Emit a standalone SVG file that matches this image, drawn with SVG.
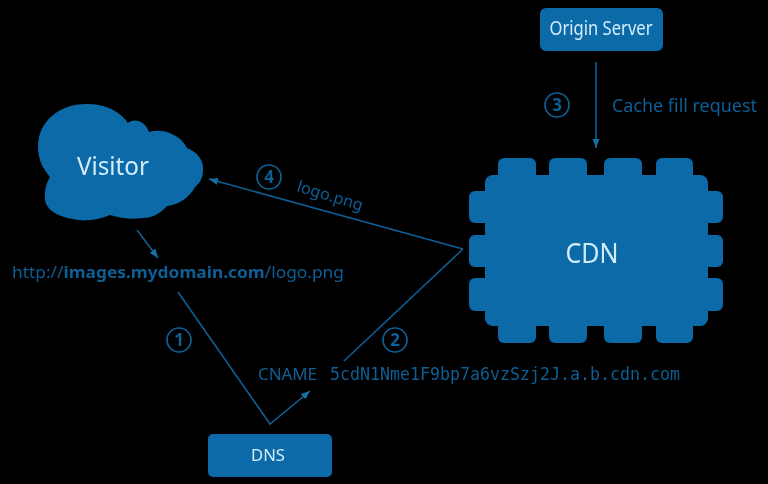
<svg xmlns="http://www.w3.org/2000/svg" width="768" height="484" viewBox="0 0 768 484">
<style>
.shape{fill:#0a6aa8}
.white{fill:#d4ecf8;font-family:"Noto Sans","Liberation Sans",sans-serif;text-anchor:middle}
.lbl{fill:#0e5f96;font-family:"Noto Sans","Liberation Sans",sans-serif;font-size:18px}
.mono{fill:#0e5f96;font-family:"DejaVu Sans Mono","Liberation Mono",monospace;font-size:17px}
.line{fill:none;stroke:#0e5f96;stroke-width:1.6}
.ring{fill:none;stroke:#0e5f96;stroke-width:1.7}
.num{fill:#0e5f96;font-family:"Noto Sans","Liberation Sans",sans-serif;font-size:17px;font-weight:700;text-anchor:middle}
</style>
<defs>
<marker id="arrow" markerUnits="userSpaceOnUse" markerWidth="10" markerHeight="10" refX="9" refY="5" orient="auto"><path d="M0,1.5 L9,5 L0,8.5 Z" fill="#1670a8"/></marker>
<filter id="soft" x="-5%" y="-5%" width="110%" height="110%"><feGaussianBlur stdDeviation="0.55"/></filter>
</defs>
<rect width="768" height="484" fill="#000"/>
<g filter="url(#soft)">
<g id="connectors">
<path class="line" d="M596,62 V148" marker-end="url(#arrow)"/>
<path class="line" d="M463,249 L209,179" marker-end="url(#arrow)"/>
<path class="line" d="M137,230 L158,258" marker-end="url(#arrow)"/>
<path class="line" d="M178,292 L270,424 L310,391" marker-end="url(#arrow)" stroke-linejoin="miter"/>
<path class="line" d="M344,361 L463,249"/>
</g>
<g id="origin-server">
<rect class="shape" x="540" y="8" width="123" height="43" rx="6"/>
<text class="white" x="601" y="35" font-size="19" textLength="103" lengthAdjust="spacingAndGlyphs">Origin Server</text>
</g>
<g id="visitor">
<path class="shape" d="M38,147 C38,122 58,104 87,104 C105,104 120,111 128,123 C131,119 144,118 149,132 C162,128 180,134 187,148 C197,152 204,160 203,170 C203,179 199,184 195,187 C190,197 178,205 167,206 C160,214 152,218 143,218 C132,220 120,218 110,215 C98,220 85,222 73,219 C55,216 43,208 45,194 C45,187 47,182 50,177 C42,168 38,158 38,147 Z"/>
<text class="white" x="113" y="175" font-size="25" textLength="72" lengthAdjust="spacingAndGlyphs">Visitor</text>
</g>
<g id="cdn">
<rect class="shape" x="485" y="175" width="223" height="151" rx="8"/>
<rect class="shape" x="498" y="158" width="38" height="30" rx="6"/>
<rect class="shape" x="549" y="158" width="38" height="30" rx="6"/>
<rect class="shape" x="604" y="158" width="38" height="30" rx="6"/>
<rect class="shape" x="656" y="158" width="37" height="30" rx="6"/>
<rect class="shape" x="498" y="313" width="38" height="30" rx="6"/>
<rect class="shape" x="549" y="313" width="38" height="30" rx="6"/>
<rect class="shape" x="604" y="313" width="38" height="30" rx="6"/>
<rect class="shape" x="656" y="313" width="37" height="30" rx="6"/>
<rect class="shape" x="469" y="191" width="254" height="32" rx="6"/>
<rect class="shape" x="469" y="235" width="254" height="32" rx="6"/>
<rect class="shape" x="469" y="278" width="254" height="33" rx="6"/>
<text class="white" x="592" y="263" font-size="27" textLength="53" lengthAdjust="spacingAndGlyphs">CDN</text>
</g>
<g id="dns">
<rect class="shape" x="208" y="434" width="124" height="43" rx="5"/>
<text class="white" x="268" y="461" font-size="17" textLength="34" lengthAdjust="spacingAndGlyphs">DNS</text>
</g>
<g id="labels">
<circle class="ring" cx="557" cy="105" r="12"/><text class="num" x="557" y="111">3</text>
<circle class="ring" cx="269" cy="177" r="12"/><text class="num" x="269" y="183">4</text>
<circle class="ring" cx="179" cy="340" r="12"/><text class="num" x="179" y="346">1</text>
<circle class="ring" cx="395" cy="340" r="12"/><text class="num" x="395" y="346">2</text>
<text class="lbl" x="612" y="112" textLength="145" lengthAdjust="spacingAndGlyphs">Cache fill request</text>
<text class="lbl" x="296" y="191" style="font-size:16px" textLength="68" lengthAdjust="spacingAndGlyphs" transform="rotate(17 296 191)">logo.png</text>
<text class="lbl" x="12" y="278" style="font-size:16.5px" textLength="332" lengthAdjust="spacingAndGlyphs">http://<tspan font-weight="700">images.mydomain.com</tspan>/logo.png</text>
<text class="lbl" x="258" y="380" style="font-size:17px" textLength="59" lengthAdjust="spacingAndGlyphs">CNAME</text>
<text class="mono" x="330" y="380" textLength="350" lengthAdjust="spacingAndGlyphs">5cdN1Nme1F9bp7a6vzSzj2J.a.b.cdn.com</text>
</g>
</g>
</svg>
